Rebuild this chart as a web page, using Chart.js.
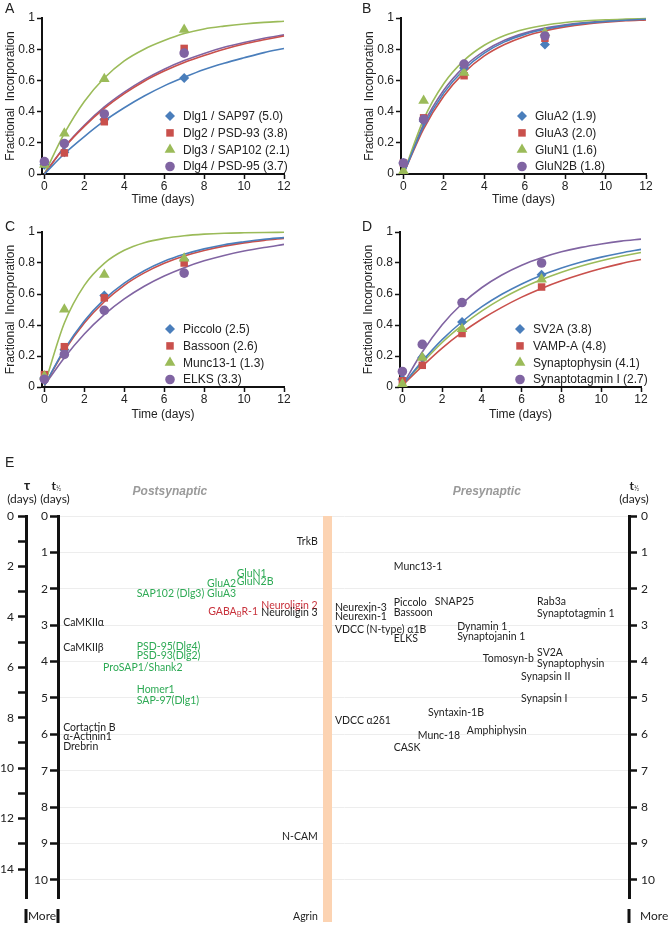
<!DOCTYPE html>
<html>
<head>
<meta charset="utf-8">
<script src="https://cdn.jsdelivr.net/npm/chart.js@4.4.0/dist/chart.umd.min.js"></script>
<style>
  html, body { margin: 0; padding: 0; background: #fff; }
  #wrap { position: relative; width: 670px; height: 926px; overflow: hidden; }
  canvas { position: absolute; }
  .letter { position: absolute; font: 14px "Liberation Sans", Arial, sans-serif; color: #222; }
</style>
</head>
<body>
<div id="wrap">
  <canvas id="chartA" width="335" height="208" style="left:0;top:0"></canvas>
  <canvas id="chartB" width="311" height="208" style="left:359px;top:0"></canvas>
  <canvas id="chartC" width="335" height="209" style="left:0;top:214px"></canvas>
  <canvas id="chartD" width="312" height="209" style="left:358px;top:214px"></canvas>
  <canvas id="chartE" width="670" height="486" style="left:0;top:440px"></canvas>
  <div class="letter" style="left:5px;top:0">A</div>
  <div class="letter" style="left:362px;top:0">B</div>
  <div class="letter" style="left:5px;top:218px">C</div>
  <div class="letter" style="left:362px;top:218px">D</div>
  <div class="letter" style="left:5px;top:454px">E</div>
</div>
<script>
// ---- data ----
const sampleDays = [0, 1, 3, 7];
const fitDays = [0, 1, 2, 3, 4, 5, 6, 7, 8, 9, 10, 11, 12];

const namesA = ['Dlg1 / SAP97 (5.0)', 'Dlg2 / PSD-93 (3.8)', 'Dlg3 / SAP102 (2.1)', 'Dlg4 / PSD-95 (3.7)'];
const pointsA = [
  [0.06, 0.14, 0.35, 0.615],
  [0.07, 0.135, 0.335, 0.805],
  [0.06, 0.26, 0.61, 0.925],
  [0.08, 0.195, 0.385, 0.775]
];
const fitsA = [
  [0.0, 0.13, 0.24, 0.34, 0.425, 0.50, 0.565, 0.62, 0.67, 0.71, 0.745, 0.778, 0.805],
  [0.0, 0.17, 0.305, 0.42, 0.515, 0.595, 0.66, 0.715, 0.76, 0.80, 0.833, 0.86, 0.885],
  [0.0, 0.26, 0.465, 0.615, 0.725, 0.80, 0.855, 0.90, 0.93, 0.948, 0.962, 0.972, 0.979],
  [0.0, 0.173, 0.312, 0.43, 0.525, 0.605, 0.672, 0.727, 0.773, 0.812, 0.843, 0.87, 0.892]
];

const namesB = ['GluA2 (1.9)', 'GluA3 (2.0)', 'GluN1 (1.6)', 'GluN2B (1.8)'];
const pointsB = [
  [0.07, 0.34, 0.68, 0.83],
  [0.07, 0.36, 0.63, 0.87],
  [0.02, 0.47, 0.65, 0.905],
  [0.07, 0.35, 0.705, 0.885]
];
const fitsB = [
  [0.0, 0.305, 0.52, 0.67, 0.775, 0.847, 0.895, 0.928, 0.951, 0.967, 0.978, 0.986, 0.992],
  [0.0, 0.29, 0.50, 0.65, 0.757, 0.83, 0.882, 0.918, 0.943, 0.961, 0.973, 0.982, 0.988],
  [0.0, 0.35, 0.58, 0.728, 0.825, 0.888, 0.928, 0.954, 0.971, 0.982, 0.989, 0.993, 0.996],
  [0.0, 0.32, 0.538, 0.687, 0.788, 0.857, 0.903, 0.935, 0.956, 0.971, 0.981, 0.987, 0.991]
];

const namesC = ['Piccolo (2.5)', 'Bassoon (2.6)', 'Munc13-1 (1.3)', 'ELKS (3.3)'];
const pointsC = [
  [0.06, 0.24, 0.59, 0.82],
  [0.08, 0.26, 0.575, 0.80],
  [0.07, 0.50, 0.725, 0.83],
  [0.05, 0.21, 0.495, 0.735]
];
const fitsC = [
  [0.01, 0.242, 0.426, 0.565, 0.67, 0.75, 0.811, 0.856, 0.891, 0.918, 0.937, 0.953, 0.964],
  [0.01, 0.234, 0.413, 0.55, 0.656, 0.736, 0.798, 0.845, 0.881, 0.909, 0.93, 0.946, 0.959],
  [0.01, 0.413, 0.656, 0.798, 0.882, 0.931, 0.959, 0.976, 0.986, 0.992, 0.995, 0.997, 0.998],
  [0.01, 0.189, 0.342, 0.467, 0.568, 0.65, 0.716, 0.77, 0.814, 0.849, 0.877, 0.90, 0.92]
];

const namesD = ['SV2A (3.8)', 'VAMP-A (4.8)', 'Synaptophysin (4.1)', 'Synaptotagmin I (2.7)'];
const pointsD = [
  [0.05, 0.19, 0.42, 0.725],
  [0.04, 0.14, 0.345, 0.645],
  [0.02, 0.19, 0.375, 0.695],
  [0.10, 0.275, 0.545, 0.80]
];
const fitsD = [
  [0.01, 0.167, 0.306, 0.421, 0.518, 0.598, 0.665, 0.721, 0.767, 0.806, 0.838, 0.865, 0.888],
  [0.01, 0.134, 0.251, 0.352, 0.439, 0.514, 0.58, 0.636, 0.685, 0.727, 0.764, 0.796, 0.823],
  [0.01, 0.155, 0.287, 0.397, 0.491, 0.57, 0.637, 0.693, 0.741, 0.781, 0.815, 0.844, 0.868],
  [0.01, 0.226, 0.402, 0.537, 0.642, 0.723, 0.786, 0.834, 0.872, 0.901, 0.923, 0.941, 0.954]
];

// panel E: protein, half-life t1/2 (days), column on the chart (0-100), group
const proteinNames = ['TrkB', 'GluN1', 'GluN2B', 'GluA2', 'GluA3', 'SAP102 (Dlg3)', 'Neuroligin 2', 'Neuroligin 3',
  'GABA_BR-1', 'CaMKIIα', 'CaMKIIβ', 'PSD-95(Dlg4)', 'PSD-93(Dlg2)', 'ProSAP1/Shank2', 'Homer1', 'SAP-97(Dlg1)',
  'Cortactin B', 'α-Actinin1', 'Drebrin', 'N-CAM', 'Agrin',
  'Munc13-1', 'Neurexin-3', 'Neurexin-1', 'Piccolo', 'Bassoon', 'SNAP25', 'Rab3a', 'Synaptotagmin 1',
  'VDCC (N-type) α1B', 'ELKS', 'Dynamin 1', 'Synaptojanin 1', 'Tomosyn-b', 'SV2A', 'Synaptophysin',
  'Synapsin II', 'Synapsin I', 'Syntaxin-1B', 'VDCC α2δ1', 'Munc-18', 'Amphiphysin', 'CASK'];
const proteinHalfLife = [0.71, 1.57, 1.81, 1.87, 2.12, 2.12, 2.45, 2.66,
  2.64, 2.94, 3.63, 3.6, 3.85, 4.18, 4.78, 5.08,
  5.82, 6.07, 6.35, 8.82, 11.0,
  1.40, 2.53, 2.77, 2.39, 2.66, 2.36, 2.36, 2.69,
  3.13, 3.38, 3.05, 3.32, 3.93, 3.76, 4.07,
  4.42, 5.03, 5.41, 5.63, 6.04, 5.91, 6.37];
const proteinColumn = [45.5, 31.3, 31.3, 26.1, 26.1, 13.8, 35.6, 35.6,
  26.3, 0.9, 0.9, 13.8, 13.8, 7.9, 13.8, 13.8,
  0.9, 0.9, 0.9, 45.5, 45.5,
  58.8, 48.5, 48.5, 58.8, 58.8, 66.0, 83.9, 83.9,
  48.5, 58.8, 69.9, 69.9, 74.4, 83.9, 83.9,
  81.1, 81.1, 64.8, 48.5, 63.0, 71.6, 58.8];
const proteinGroup = ['other', 'excitatory', 'excitatory', 'excitatory', 'excitatory', 'excitatory', 'inhibitory', 'other',
  'inhibitory', 'other', 'other', 'excitatory', 'excitatory', 'excitatory', 'excitatory', 'excitatory',
  'other', 'other', 'other', 'other', 'other',
  'other', 'other', 'other', 'other', 'other', 'other', 'other', 'other',
  'other', 'other', 'other', 'other', 'other', 'other', 'other',
  'other', 'other', 'other', 'other', 'other', 'other', 'other'];

// ---- styles ----
const seriesColors = ['#4a7ebb', '#c9504c', '#9bbb59', '#8064a2'];
const seriesMarkers = ['rectRot', 'rect', 'triangle', 'circle'];
const markerRadius = [5, 5.3, 6.2, 4.8];
const FONT = '"Liberation Sans", Arial, sans-serif';
const EFONT = 'Lato, "Open Sans", sans-serif';
const groupColors = { other: '#222', excitatory: '#2eaa55', inhibitory: '#c8323c' };

function drawMarker(ctx, style, x, y, r) {
  ctx.beginPath();
  if (style === 'rectRot') {
    ctx.moveTo(x, y - r); ctx.lineTo(x + r, y); ctx.lineTo(x, y + r); ctx.lineTo(x - r, y);
  } else if (style === 'rect') {
    const s = r * Math.SQRT1_2;
    ctx.rect(x - s, y - s, 2 * s, 2 * s);
  } else if (style === 'triangle') {
    ctx.moveTo(x, y - r);
    ctx.lineTo(x + r * 0.866, y + r * 0.5);
    ctx.lineTo(x - r * 0.866, y + r * 0.5);
  } else {
    ctx.arc(x, y, r, 0, Math.PI * 2);
  }
  ctx.closePath();
  ctx.fill();
}

const insideLegend = {
  id: 'insideLegend',
  afterDatasetsDraw(chart, args, opts) {
    const { ctx, chartArea } = chart;
    const sets = chart.data.datasets.filter(d => d.inLegend);
    ctx.save();
    ctx.font = '12px ' + FONT;
    ctx.textBaseline = 'middle';
    sets.forEach((ds, i) => {
      const y = chartArea.bottom - 7.5 - (sets.length - 1 - i) * 16.8;
      const x = chartArea.left + opts.offsetX;
      ctx.fillStyle = ds.backgroundColor;
      drawMarker(ctx, ds.pointStyle, x, y, ds.pointRadius);
      ctx.fillStyle = '#222';
      ctx.fillText(ds.label, x + 13, y + 0.5);
    });
    ctx.restore();
  }
};

function createPanel(canvasId, names, points, fits, legendX, rightPad, xAxisH) {
  const canvas = document.getElementById(canvasId);
  if (!canvas) return;
  const datasets = [];
  names.forEach((name, i) => {
    datasets.push({
      type: 'line',
      label: name + ' fit',
      data: fitDays.map((d, j) => ({ x: d, y: fits[i][j] })),
      borderColor: seriesColors[i],
      borderWidth: 1.6,
      pointRadius: 0,
      cubicInterpolationMode: 'monotone',
      clip: false,
      order: 10
    });
  });
  names.forEach((name, i) => {
    datasets.push({
      type: 'scatter',
      label: name,
      inLegend: true,
      data: sampleDays.map((d, j) => ({ x: d, y: points[i][j] })),
      backgroundColor: seriesColors[i],
      borderWidth: 0,
      pointStyle: seriesMarkers[i],
      pointRadius: markerRadius[i],
      clip: false,
      order: 4 - i
    });
  });
  new Chart(canvas.getContext('2d'), {
    type: 'scatter',
    data: { datasets: datasets },
    options: {
      responsive: false,
      animation: false,
      events: [],
      layout: { padding: { top: 18, right: rightPad, left: 0, bottom: 0 } },
      plugins: { legend: { display: false }, tooltip: { enabled: false }, insideLegend: { offsetX: legendX } },
      scales: {
        x: {
          type: 'linear', min: -0.12, max: 12,
          afterBuildTicks: s => { s.ticks = [0, 2, 4, 6, 8, 10, 12].map(v => ({ value: v })); },
          afterFit: s => { s.height = xAxisH; },
          border: { display: true, color: '#111', width: 2 },
          grid: { drawOnChartArea: false, drawTicks: true, tickLength: 5, tickColor: '#111', tickWidth: 1.5 },
          ticks: { color: '#222', font: { size: 12, family: FONT }, padding: 0, maxRotation: 0 },
          title: { display: true, text: 'Time (days)', color: '#222', font: { size: 12, family: FONT }, padding: { top: 0, bottom: 1 } }
        },
        y: {
          type: 'linear', min: 0, max: 1,
          afterBuildTicks: s => { s.ticks = [0, 0.2, 0.4, 0.6, 0.8, 1].map(v => ({ value: v })); },
          afterFit: s => { s.width = 42; },
          border: { display: true, color: '#111', width: 2 },
          grid: { drawOnChartArea: false, drawTicks: true, tickLength: 5, tickColor: '#111', tickWidth: 1.5 },
          ticks: { color: '#222', font: { size: 12, family: FONT }, padding: 2, callback: v => String(+v.toFixed(1)) },
          title: { display: true, text: 'Fractional  Incorporation', color: '#222', font: { size: 12, family: FONT }, padding: { top: 3, bottom: 0 } }
        }
      }
    },
    plugins: [insideLegend]
  });
}

createPanel('chartA', namesA, pointsA, fitsA, 128, 51, 34);
createPanel('chartB', namesB, pointsB, fitsB, 121, 24, 34);
createPanel('chartC', namesC, pointsC, fitsC, 128, 51, 36);
createPanel('chartD', namesD, pointsD, fitsD, 120, 29, 36);

// ---- panel E ----
const rightAligned = ['TrkB', 'N-CAM', 'Agrin'];

function drawHalfSymbol(ctx, cx, cy) {
  ctx.save();
  ctx.font = 'bold 12px ' + EFONT;
  ctx.textAlign = 'right';
  ctx.textBaseline = 'middle';
  ctx.fillText('t', cx + 1, cy);
  ctx.font = '7px ' + EFONT;
  ctx.textAlign = 'left';
  ctx.fillText('½', cx + 1, cy + 3);
  ctx.restore();
}

function drawLabel(ctx, text, x, y, align) {
  // "_X" marks a one-letter subscript
  const parts = [];
  let i = 0;
  while (i < text.length) {
    if (text[i] === '_' && i + 1 < text.length) { parts.push({ t: text[i + 1], sub: true }); i += 2; }
    else {
      let j = text.indexOf('_', i); if (j < 0) j = text.length;
      parts.push({ t: text.slice(i, j), sub: false }); i = j;
    }
  }
  const fontMain = '10.5px ' + EFONT, fontSub = '7.5px ' + EFONT;
  let total = 0;
  parts.forEach(p => { ctx.font = p.sub ? fontSub : fontMain; p.w = ctx.measureText(p.t).width; total += p.w; });
  let cx = align === 'right' ? x - total : x;
  ctx.textAlign = 'left';
  parts.forEach(p => {
    ctx.font = p.sub ? fontSub : fontMain;
    ctx.fillText(p.t, cx, p.sub ? y + 3 : y);
    cx += p.w;
  });
}

const panelE = {
  id: 'panelE',
  beforeDatasetsDraw(chart) {
    const { ctx, chartArea, scales } = chart;
    // divider band between post- and presynaptic sides
    const xc = scales.x.getPixelForValue(47.2);
    ctx.save();
    ctx.fillStyle = '#fcd3b2';
    ctx.fillRect(xc - 4.5, chartArea.top, 9, chartArea.bottom - chartArea.top + 24);
    ctx.restore();
  },
  afterDatasetsDraw(chart) {
    const { ctx } = chart;
    const meta = chart.getDatasetMeta(0);
    ctx.save();
    ctx.textBaseline = 'middle';
    meta.data.forEach((pt, i) => {
      ctx.fillStyle = groupColors[proteinGroup[i]];
      drawLabel(ctx, proteinNames[i], pt.x, pt.y, rightAligned.includes(proteinNames[i]) ? 'right' : 'left');
    });
    ctx.restore();
  },
  afterDraw(chart) {
    const { ctx, chartArea, scales } = chart;
    const L = chartArea.left, R = chartArea.right, tauX = scales.tau.right;
    ctx.save();
    ctx.fillStyle = '#222';
    ctx.textBaseline = 'middle';
    ctx.textAlign = 'center';
    // axis headers
    ctx.font = 'bold 13px ' + EFONT;
    ctx.fillText('τ', tauX + 1, 46);
    drawHalfSymbol(ctx, L - 3, 46);
    drawHalfSymbol(ctx, R + 4, 46);
    ctx.font = '12px ' + EFONT;
    ctx.textAlign = 'center';
    ctx.fillText('(days)', tauX - 4, 59);
    ctx.fillText('(days)', L - 3, 59);
    ctx.fillText('(days)', R + 5, 59);
    // side headers
    ctx.font = 'italic bold 12px ' + FONT;
    ctx.fillStyle = '#9a9a9a';
    ctx.fillText('Postsynaptic', scales.x.getPixelForValue(19.6), 52);
    ctx.fillText('Presynaptic', scales.x.getPixelForValue(75.1), 52);
    // "More" rows
    const yMore = chartArea.bottom + 18;
    ctx.fillStyle = '#222';
    ctx.font = '12px ' + EFONT;
    ctx.fillText('More', (tauX + L) / 2, yMore);
    ctx.textAlign = 'left';
    ctx.fillText('More', R + 11, yMore);
    ctx.fillStyle = '#111';
    [tauX, L, R].forEach(x => ctx.fillRect(x - 1.5, yMore - 7, 3, 14));
    ctx.restore();
  }
};

const halfTicks = s => { s.ticks = s.ticks.filter(t => Number.isInteger(t.value) && t.value <= 10); };
const tickFont = { size: 12, family: EFONT };

new Chart(document.getElementById('chartE').getContext('2d'), {
  type: 'scatter',
  data: {
    datasets: [{
      label: 'proteins',
      data: proteinNames.map((n, i) => ({ x: proteinColumn[i], y: proteinHalfLife[i] })),
      pointRadius: 0,
      clip: false
    }]
  },
  options: {
    responsive: false,
    animation: false,
    events: [],
    layout: { padding: { top: 76, bottom: 28, left: 0, right: 0 } },
    plugins: { legend: { display: false }, tooltip: { enabled: false } },
    scales: {
      x: { type: 'linear', min: 0, max: 100, display: false },
      y: {
        type: 'linear', position: 'left', reverse: true, min: 0, max: 10.5, weight: 0,
        afterBuildTicks: halfTicks,
        afterFit: s => { s.width = 32; },
        border: { display: true, color: '#111', width: 3 },
        grid: { color: '#ededed', lineWidth: 1, drawTicks: true, tickLength: 8, tickColor: '#111', tickWidth: 2.5 },
        ticks: { stepSize: 1, color: '#222', font: tickFont, padding: 2 }
      },
      tau: {
        type: 'linear', position: 'left', reverse: true, min: 0, max: 10.5 / Math.LN2, weight: 1,
        afterBuildTicks: s => { s.ticks = s.ticks.filter(t => Number.isInteger(t.value)); },
        afterFit: s => { s.width = 26; },
        border: { display: true, color: '#111', width: 3 },
        grid: { drawOnChartArea: false, drawTicks: true, tickLength: 8, tickColor: '#111', tickWidth: 2.5 },
        ticks: { stepSize: 1, color: '#222', font: tickFont, padding: 4, callback: v => (v % 2 === 0 ? String(v) : '') }
      },
      yRight: {
        type: 'linear', position: 'right', reverse: true, min: 0, max: 10.5,
        afterBuildTicks: halfTicks,
        afterFit: s => { s.width = 41; },
        border: { display: true, color: '#111', width: 3 },
        grid: { drawOnChartArea: false, drawTicks: true, tickLength: 8, tickColor: '#111', tickWidth: 2.5 },
        ticks: { stepSize: 1, color: '#222', font: tickFont, padding: 4 }
      }
    }
  },
  plugins: [panelE]
});
</script>
</body>
</html>
